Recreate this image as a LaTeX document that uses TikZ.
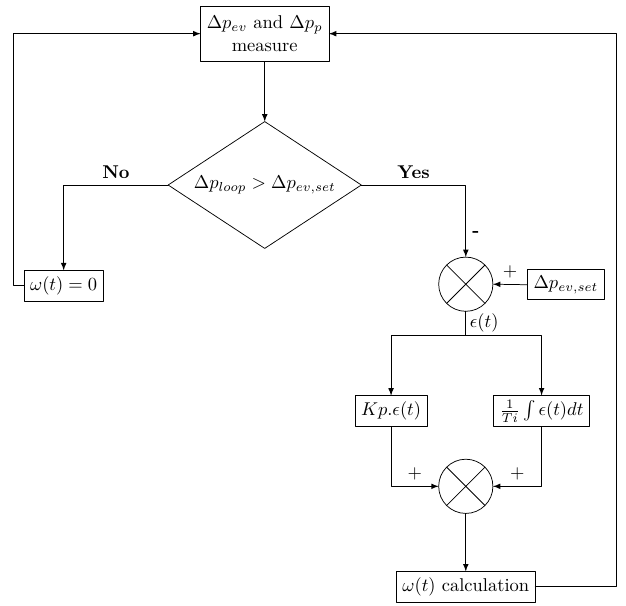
\documentclass[tikz,border=0pt]{standalone}
\usetikzlibrary{shapes.geometric}
\begin{document}
\begin{tikzpicture}[line cap=round, line join=round, >=latex,
    block/.style={draw, inner sep=3.33pt, outer sep=0pt},
    test/.style={draw, diamond, aspect=1.52, inner sep=0pt, outer sep=0pt,
      minimum width=3.67cm, minimum height=2.41cm},
    summ/.style={draw, circle, minimum size=1.03cm, inner sep=0pt, outer sep=0pt}]
  \useasboundingbox (0,0) rectangle (11.894,-11.495);
  \node[block, align=center, inner ysep=5.5pt] (meas) at (5.03,-0.64) {$\Delta p_{ev}$ and $\Delta p_p$\\measure};
  \node[test] (cond) at (5.03,-3.515) {$\Delta p_{loop} > \Delta p_{ev,set}$};
  \node[block] (zero) at (1.21,-5.43) {$\omega(t) = 0$};
  \node[summ] (sum1) at (8.85,-5.40) {};
  \node[block] (setp) at (10.75,-5.41) {$\Delta p_{ev,set}$};
  \coordinate (split) at (8.85,-6.365);
  \node[block] (prop) at (7.43,-7.81) {$Kp.\epsilon(t)$};
  \node[block, inner ysep=2.5pt] (intg) at (10.29,-7.81) {$\frac{1}{Ti}\int\epsilon(t)dt$};
  \node[summ] (sum2) at (8.85,-9.24) {};
  \node[block] (calc) at (8.85,-11.15) {$\omega(t)$ calculation};
  \coordinate (lloop) at (0.247,-0.64);
  \coordinate (rloop) at (11.72,-0.64);
  \draw (sum1.north west) -- (sum1.south east) (sum1.north east) -- (sum1.south west);
  \draw (sum2.north west) -- (sum2.south east) (sum2.north east) -- (sum2.south west);
  \draw[->] (meas.south) -- (cond.north);
  \draw[->] (cond.west) -| node[pos=0.25, above] {\textbf{No}} (zero.north);
  \draw[->] (cond.east) -| node[pos=0.25, above] {\textbf{Yes}}
    node[pos=0.84, right] {\textbf{-}} (sum1.north);
  \draw[->] (setp.west) -- node[above] {$+$} (sum1.east);
  \draw (sum1.south) -- node[right, inner sep=2pt] {$\epsilon(t)$} (split);
  \draw[->] (split) -| (prop.north);
  \draw[->] (split) -| (intg.north);
  \draw[->] (prop.south) |- node[pos=0.75, above] {$+$} (sum2.west);
  \draw[->] (intg.south) |- node[pos=0.75, above] {$+$} (sum2.east);
  \draw[->] (sum2.south) -- (calc.north);
  \draw[->] (calc.east) -| (rloop) -- (meas.east);
  \draw[->] (zero.west) -| (lloop) -- (meas.west);
\end{tikzpicture}
\end{document}
